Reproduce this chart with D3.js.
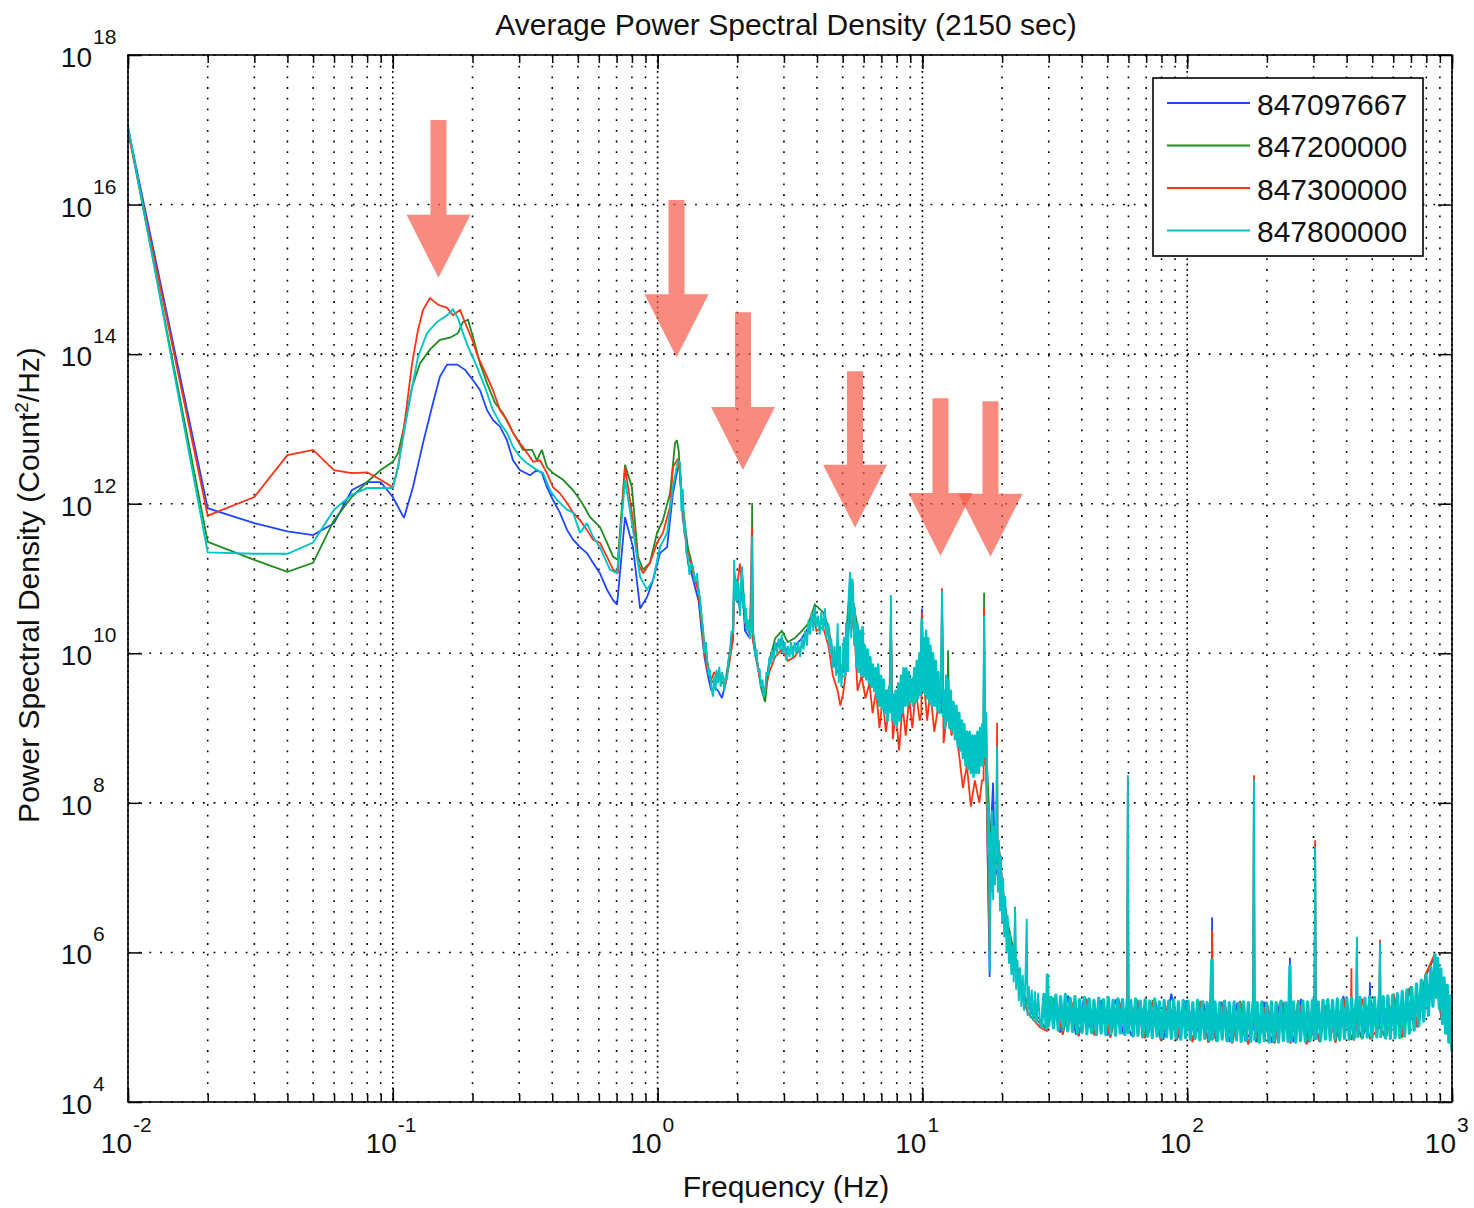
<!DOCTYPE html>
<html><head><meta charset="utf-8">
<script src="https://cdn.jsdelivr.net/npm/d3@7"></script>
<style>
body{margin:0;background:#fff;}
text{font-family:"Liberation Sans",Arial,Helvetica,sans-serif;fill:#111;}
</style></head><body>
<svg id="chart" width="1474" height="1208"></svg>
<script>
// ---------------- DATA ([log10 frequency (Hz), log10 PSD]) ----------------
const seriesNames = ["847097667","847200000","847300000","847800000"];
const xTickExps = [-2,-1,0,1,2,3];
const yTickExps = [4,6,8,10,12,14,16,18];
const chartTitle = "Average Power Spectral Density (2150 sec)";
const xTitle = "Frequency (Hz)";

const psd847097667 = [
[-2,17.02],[-1.699,11.94],[-1.523,11.74],[-1.398,11.63],[-1.301,11.58],[-1.222,11.74],[-1.155,12.18],[-1.097,12.29],[-1.046,12.29],[-1.0,12.09],
[-0.958,11.81],[-0.924,12.22],[-0.886,12.81],[-0.848,13.35],[-0.822,13.70],[-0.795,13.86],[-0.757,13.86],[-0.727,13.79],[-0.697,13.65],[-0.671,13.52],
[-0.644,13.25],[-0.622,13.12],[-0.595,13.03],[-0.569,12.85],[-0.546,12.58],[-0.520,12.45],[-0.482,12.38],[-0.456,12.45],[-0.437,12.41],[-0.418,12.22],
[-0.395,12.05],[-0.369,11.88],[-0.342,11.65],[-0.319,11.52],[-0.293,11.42],[-0.267,11.34],[-0.244,11.21],[-0.218,11.07],[-0.191,10.85],[-0.168,10.71],
[-0.153,10.65],[-0.123,11.82],[-0.093,11.42],[-0.066,10.60],[-0.040,10.75],[-0.017,10.98],[0.009,11.34],[0.036,11.42],[0.058,12.14],[0.077,12.49],
[0.085,12.45],[0.095,11.8],[0.104,11.6],[0.115,11.2],[0.126,11.1],[0.140,10.9],[0.155,10.7],[0.166,10.3],[0.177,9.95],[0.190,9.7],[0.203,9.5],
[0.214,9.55],[0.228,9.5],[0.243,9.4],[0.257,9.6],[0.270,9.9],[0.285,10.2],[0.289,11.0],[0.297,10.8],[0.311,10.6],[0.320,10.9],[0.330,10.3],
[0.349,10.2],[0.356,11.2],[0.359,10.2],[0.374,9.9],[0.390,9.6],[0.406,9.5],[0.422,9.9],[0.444,10.1],[0.469,10.2],[0.492,10.0],[0.517,10.1],
[0.545,10.2],[0.570,10.35],[0.588,10.5],[0.606,10.4],[0.625,10.45],[0.645,10.25],[0.662,9.9],[0.680,9.75],[0.700,9.75],[0.713,10.1],[0.727,10.9],
[0.745,10.4],[0.764,10.1],[0.783,9.9],[0.798,9.75],[0.818,9.65],[0.838,9.5],[0.858,9.3],[0.878,9.3],[0.881,10.3],[0.885,9.3],[0.904,9.3],[0.929,9.6],
[0.954,9.45],[0.979,9.6],[0.995,9.6],[0.998,10.6],[1.002,9.7],[1.022,9.8],[1.045,9.5],[1.070,9.4],[1.074,10.7],[1.078,9.3],[1.097,9.2],[1.123,9.0],
[1.149,8.8],[1.173,8.6],[1.198,8.5],[1.222,8.6],[1.231,8.7],[1.233,10.6],[1.235,8.7],[1.240,8.7],[1.254,5.67],[1.257,7.5],[1.267,8.27],[1.274,7.0],[1.289,7.2],
[1.305,6.7],[1.322,6.3],[1.340,6.0],[1.359,5.7],[1.379,5.5],[1.397,5.3],[1.419,5.2],[1.444,5.1],
[1.47,4.96],[1.49,5.40],[1.52,4.93],[1.55,5.42],[1.58,4.90],[1.61,5.38],[1.64,4.91],[1.67,5.36],[1.70,4.89],[1.73,5.37],[1.76,4.90],[1.774,5.0],[1.776,8.2],[1.778,5.0],
[1.79,4.88],[1.82,5.36],[1.85,4.87],[1.88,5.35],[1.91,4.83],[1.94,5.45],[1.97,4.85],[2.00,5.36],[2.03,4.84],[2.06,5.35],[2.09,4.83],[2.092,5.2],[2.094,6.47],[2.096,5.1],
[2.10,4.85],[2.13,5.34],[2.16,4.80],[2.19,5.33],[2.22,4.81],[2.250,5.0],[2.252,8.25],[2.254,5.0],[2.26,4.80],[2.29,5.34],[2.32,4.79],[2.35,5.33],[2.386,5.0],[2.388,5.93],[2.390,5.0],[2.40,4.80],
[2.43,5.38],[2.46,4.80],[2.481,5.0],[2.483,7.35],[2.485,5.0],[2.50,4.82],[2.53,5.36],[2.56,4.82],[2.59,5.42],[2.62,4.84],[2.639,5.0],[2.641,6.15],[2.643,5.0],[2.66,4.86],
[2.688,5.1],[2.69,5.6],[2.692,5.1],[2.726,5.0],[2.728,6.05],[2.730,5.0],
[2.75,4.86],[2.78,5.42],[2.81,4.87],[2.84,5.52],[2.87,5.0],[2.90,5.68],[2.935,5.95],[2.96,5.1],[2.98,5.5],[3.0,4.75]
];

const psd847200000 = [
[-2,17.0],[-1.699,11.49],[-1.523,11.25],[-1.398,11.09],[-1.301,11.21],[-1.222,11.78],[-1.155,12.09],[-1.097,12.29],[-1.046,12.45],[-1.0,12.56],
[-0.98,12.68],[-0.954,13.08],[-0.927,13.56],[-0.897,13.88],[-0.860,14.06],[-0.822,14.19],[-0.784,14.22],[-0.754,14.28],[-0.735,14.43],[-0.716,14.46],
[-0.697,14.23],[-0.671,13.88],[-0.644,13.61],[-0.614,13.35],[-0.584,13.21],[-0.546,12.95],[-0.508,12.72],[-0.474,12.72],[-0.456,12.58],[-0.437,12.72],
[-0.418,12.49],[-0.395,12.41],[-0.357,12.32],[-0.319,12.18],[-0.285,12.01],[-0.255,11.82],[-0.218,11.69],[-0.191,11.48],[-0.168,11.29],[-0.150,11.25],
[-0.123,12.52],[-0.097,12.22],[-0.074,11.29],[-0.055,11.12],[-0.029,11.21],[-0.002,11.61],[0.020,11.78],[0.047,12.14],[0.066,12.81],[0.073,12.85],
[0.080,12.7],[0.085,12.3],[0.095,12.0],[0.104,11.7],[0.115,11.4],[0.126,11.25],[0.140,11.0],[0.155,10.85],[0.166,10.5],[0.177,10.1],[0.190,9.85],
[0.203,9.6],[0.214,9.65],[0.228,9.7],[0.243,9.6],[0.257,9.65],[0.270,9.95],[0.285,10.3],[0.289,11.1],[0.297,10.9],[0.311,10.7],[0.320,11.05],
[0.330,10.5],[0.349,10.3],[0.355,10.3],[0.357,12.01],[0.360,10.3],[0.374,9.95],[0.390,9.55],[0.406,9.35],[0.422,9.9],[0.444,10.2],[0.469,10.3],[0.492,10.15],
[0.517,10.2],[0.545,10.3],[0.570,10.4],[0.594,10.65],[0.625,10.55],[0.645,10.35],[0.662,10.0],[0.680,9.85],[0.700,9.8],[0.713,10.3],[0.727,10.95],
[0.745,10.55],[0.764,10.2],[0.783,10.0],[0.798,9.8],[0.818,9.75],[0.838,9.6],[0.858,9.5],[0.878,9.5],[0.881,10.5],[0.885,9.45],[0.904,9.4],[0.929,9.75],
[0.954,9.6],[0.979,9.75],[0.995,9.7],[0.998,10.5],[1.002,9.8],[1.022,9.9],[1.045,9.6],[1.072,9.6],[1.074,10.6],[1.078,9.5],[1.095,9.4],[1.097,10.04],[1.10,9.3],[1.123,9.2],
[1.149,9.0],[1.173,8.8],[1.198,8.6],[1.222,8.7],[1.231,8.7],[1.233,10.81],[1.235,8.8],[1.240,8.8],[1.257,7.5],[1.274,7.1],[1.289,7.4],[1.305,6.8],[1.322,6.4],
[1.340,6.1],[1.348,6.0],[1.350,6.61],[1.352,5.9],[1.359,5.8],[1.379,5.5],[1.397,5.3],[1.419,5.15],[1.444,5.05],
[1.47,4.97],[1.50,5.39],[1.53,4.92],[1.56,5.37],[1.59,4.89],[1.62,5.38],[1.65,4.90],[1.68,5.36],[1.71,4.87],[1.74,5.38],[1.774,5.0],[1.776,8.3],[1.778,5.0],
[1.81,5.35],[1.84,4.86],[1.87,5.36],[1.90,4.84],[1.93,5.34],[1.96,4.82],[1.99,5.36],[2.02,4.81],[2.05,5.35],[2.08,4.80],[2.092,5.0],[2.094,6.2],[2.096,5.0],[2.11,4.82],
[2.14,5.33],[2.17,4.79],[2.20,5.35],[2.23,4.78],[2.250,5.0],[2.252,8.3],[2.254,5.0],[2.27,4.80],[2.30,5.33],[2.33,4.79],[2.36,5.34],[2.39,4.80],[2.42,5.36],[2.45,4.78],
[2.481,5.0],[2.483,7.4],[2.485,5.0],[2.50,4.81],[2.53,5.35],[2.56,4.80],[2.59,5.37],[2.62,4.83],[2.639,5.0],[2.641,6.2],[2.643,5.0],[2.66,4.84],[2.69,5.39],
[2.726,5.0],[2.728,6.1],[2.730,5.0],[2.75,4.85],[2.78,5.43],
[2.81,4.86],[2.84,5.52],[2.87,5.0],[2.90,5.7],[2.935,5.96],[2.96,5.1],[2.98,5.5],[3.0,4.72]
];

const psd847300000 = [
[-2,16.98],[-1.699,11.84],[-1.523,12.09],[-1.398,12.65],[-1.301,12.72],[-1.222,12.45],[-1.155,12.41],[-1.097,12.42],[-1.046,12.32],[-1.0,12.22],
[-0.98,12.49],[-0.954,13.12],[-0.927,13.88],[-0.905,14.32],[-0.886,14.59],[-0.860,14.75],[-0.829,14.66],[-0.795,14.62],[-0.773,14.52],[-0.746,14.59],
[-0.727,14.42],[-0.700,14.19],[-0.678,13.96],[-0.644,13.70],[-0.622,13.52],[-0.595,13.25],[-0.569,13.12],[-0.546,12.95],[-0.520,12.81],[-0.493,12.68],
[-0.470,12.56],[-0.444,12.58],[-0.418,12.41],[-0.395,12.22],[-0.369,12.14],[-0.342,12.01],[-0.319,11.88],[-0.293,11.78],[-0.267,11.65],[-0.244,11.52],
[-0.218,11.48],[-0.191,11.29],[-0.168,11.12],[-0.150,11.07],[-0.123,12.49],[-0.097,11.88],[-0.074,11.21],[-0.055,11.07],[-0.029,11.21],[-0.002,11.48],
[0.020,11.61],[0.047,11.96],[0.058,12.49],[0.077,12.6],[0.085,12.4],[0.095,11.9],[0.104,11.6],[0.115,11.3],[0.126,11.2],[0.140,11.0],[0.155,10.8],
[0.166,10.4],[0.177,10.0],[0.190,9.75],[0.203,9.65],[0.214,9.75],[0.228,9.65],[0.243,9.7],[0.257,9.6],[0.270,9.85],[0.285,10.2],[0.289,10.9],
[0.297,10.8],[0.311,11.2],[0.320,10.9],[0.330,10.4],[0.349,10.25],[0.356,11.69],[0.359,10.2],[0.374,9.9],[0.390,9.6],[0.406,9.5],[0.422,9.75],
[0.444,9.95],[0.469,10.05],[0.492,9.9],[0.517,9.95],[0.545,10.1],[0.570,10.3],[0.585,10.55],[0.600,10.3],[0.625,10.35],[0.645,10.1],[0.662,9.7],
[0.680,9.5],[0.690,9.3],[0.700,9.45],[0.713,9.8],[0.727,10.6],[0.745,10.2],[0.755,9.5],[0.770,9.7],[0.785,9.4],[0.800,9.6],[0.812,9.2],
[0.825,9.5],[0.838,9.0],[0.850,9.4],[0.862,8.95],[0.875,9.3],[0.881,10.5],[0.888,8.85],[0.900,9.2],[0.912,8.7],[0.925,9.3],[0.937,8.9],
[0.950,9.4],[0.962,9.0],[0.975,9.5],[0.990,9.1],[0.996,9.2],[0.998,10.55],[1.000,9.6],[1.005,9.65],[1.018,9.1],[1.030,9.5],[1.045,8.95],[1.060,9.3],[1.072,9.2],[1.074,10.87],
[1.080,8.8],[1.097,9.3],[1.110,8.9],[1.123,9.1],[1.140,8.6],[1.153,8.2],[1.168,8.5],[1.183,7.95],[1.198,8.3],[1.215,8.0],[1.225,8.3],
[1.231,8.3],[1.233,10.6],[1.235,8.5],[1.240,8.6],[1.248,7.0],[1.254,6.0],[1.260,7.3],[1.274,7.6],[1.280,7.5],[1.282,9.07],[1.284,7.5],[1.289,7.4],[1.305,6.8],[1.322,6.3],[1.340,6.0],
[1.359,5.7],[1.379,5.4],[1.397,5.2],[1.419,5.1],[1.444,5.0],
[1.47,4.95],[1.50,5.40],[1.53,4.90],[1.56,5.38],[1.59,4.88],[1.62,5.36],[1.65,4.89],[1.68,5.37],[1.71,4.86],[1.74,5.36],[1.774,5.0],[1.776,8.35],[1.778,5.0],
[1.81,5.37],[1.84,4.85],[1.87,5.34],[1.90,4.82],[1.93,5.36],[1.96,4.83],[1.99,5.35],[2.02,4.80],[2.05,5.34],[2.08,4.79],[2.092,5.0],[2.094,6.3],[2.096,5.0],[2.11,4.81],
[2.14,5.35],[2.17,4.78],[2.20,5.33],[2.23,4.77],[2.250,5.0],[2.252,8.37],[2.254,5.0],[2.27,4.79],[2.30,5.34],[2.33,4.78],[2.36,5.33],[2.39,4.78],[2.42,5.35],[2.45,4.77],
[2.481,5.0],[2.483,7.5],[2.485,5.0],[2.50,4.80],[2.53,5.36],[2.56,4.79],[2.59,5.37],[2.618,5.0],[2.62,5.79],[2.622,5.0],[2.63,4.82],[2.66,5.38],[2.69,4.84],
[2.726,5.0],[2.728,6.17],[2.730,5.0],[2.75,4.84],[2.78,5.45],
[2.81,4.86],[2.84,5.53],[2.87,5.0],[2.90,5.7],[2.935,5.98],[2.96,5.12],[2.98,5.45],[3.0,4.68]
];

const psd847800000 = [
[-2,17.05],[-1.699,11.35],[-1.523,11.33],[-1.398,11.33],[-1.301,11.48],[-1.222,11.92],[-1.155,12.12],[-1.097,12.21],[-1.046,12.21],[-1.0,12.21],
[-0.98,12.49],[-0.954,13.03],[-0.927,13.56],[-0.905,13.96],[-0.871,14.28],[-0.833,14.43],[-0.795,14.52],[-0.773,14.60],[-0.754,14.48],[-0.735,14.28],
[-0.716,14.10],[-0.682,13.83],[-0.652,13.56],[-0.622,13.25],[-0.595,13.08],[-0.569,12.95],[-0.546,12.76],[-0.520,12.63],[-0.493,12.54],[-0.455,12.45],
[-0.433,12.41],[-0.406,12.18],[-0.380,12.05],[-0.342,11.92],[-0.319,11.88],[-0.293,11.61],[-0.267,11.74],[-0.244,11.56],[-0.218,11.42],[-0.180,11.12],
[-0.153,11.07],[-0.123,12.32],[-0.093,11.65],[-0.066,11.02],[-0.040,10.85],[-0.017,10.98],[0.009,11.42],[0.036,11.61],[0.058,12.22],[0.077,12.58],
[0.085,12.55],[0.090,11.9],[0.095,12.2],[0.100,11.6],[0.104,11.75],[0.108,11.35],[0.115,11.29],[0.120,11.05],[0.126,11.2],[0.134,11.16],[0.140,10.95],
[0.149,11.07],[0.155,10.8],[0.160,10.75],[0.166,10.45],[0.171,10.35],[0.177,10.0],[0.183,10.15],[0.187,9.91],[0.193,9.7],[0.198,9.78],[0.203,9.55],
[0.209,9.42],[0.214,9.7],[0.219,9.5],[0.223,9.78],[0.228,9.6],[0.233,9.82],[0.238,9.55],[0.243,9.75],[0.247,9.68],[0.252,9.5],[0.257,9.7],
[0.262,9.64],[0.267,9.9],[0.273,10.0],[0.279,10.3],[0.285,10.27],[0.289,11.25],[0.293,10.7],[0.297,11.0],[0.300,10.7],[0.305,10.95],[0.311,10.5],
[0.315,10.98],[0.319,11.16],[0.323,10.6],[0.327,10.8],[0.330,10.4],[0.334,10.6],[0.338,10.3],[0.343,10.45],[0.349,10.2],[0.353,10.35],[0.356,11.56],
[0.359,10.3],[0.364,10.2],[0.368,9.95],[0.374,10.05],[0.379,9.75],[0.385,9.8],[0.390,9.55],[0.396,9.65],[0.401,9.42],[0.406,9.5],[0.411,9.75],
[0.417,9.7],[0.422,9.95],[0.427,9.85],[0.432,10.05],[0.438,9.9],[0.444,10.15],[0.451,10.0],[0.457,10.2],[0.463,10.05],[0.469,10.25],[0.474,10.0],
[0.480,10.15],[0.486,9.9],[0.492,10.1],[0.498,9.95],[0.504,10.15],[0.511,9.95],[0.517,10.15],[0.524,10.0],[0.531,10.15],[0.538,9.95],[0.545,10.2],
[0.551,10.05],[0.557,10.3],[0.564,10.1],[0.570,10.45],[0.576,10.25],[0.582,10.55],[0.588,10.3],[0.594,10.62],[0.600,10.35],[0.606,10.5],[0.612,10.25],
[0.618,10.55],[0.625,10.3],[0.632,10.6],[0.638,10.2],[0.645,10.4],[0.651,10.0],[0.656,10.2],[0.662,9.8],[0.668,10.1],[0.674,9.7],[0.680,10.4],
[0.684,9.6],[0.689,10.1],[0.694,9.55],[0.700,9.9],[0.704,10.2],[0.708,9.7],[0.713,10.4],[0.718,9.75],[0.722,10.8],[0.727,11.09],[0.731,10.2],
[0.735,11.0],[0.738,10.94],[0.742,10.1],[0.745,10.62],[0.750,9.8],[0.754,10.4],[0.759,9.75],[0.764,10.3],[0.769,9.7],[0.774,10.35],[0.779,9.7],
[0.783,10.1],[0.788,9.65],[0.793,10.05],[0.798,9.6],[0.803,9.95],[0.808,9.55],[0.813,9.85],[0.818,9.5],[0.823,9.8],[0.828,9.4],[0.833,9.85],
[0.838,9.3],[0.843,9.7],[0.848,9.25],[0.853,9.65],[0.858,9.2],[0.863,9.5],[0.868,9.1],[0.874,9.55],[0.878,9.2],[0.881,10.78],[0.885,9.1],
[0.889,9.45],[0.894,9.05],[0.899,9.5],[0.904,9.02],[0.909,9.6],[0.914,9.1],[0.919,9.7],[0.924,9.2],[0.929,9.8],[0.934,9.3],[0.939,9.8],
[0.944,9.3],[0.949,9.75],[0.954,9.35],[0.959,9.65],[0.964,9.3],[0.969,9.8],[0.974,9.35],[0.979,9.9],[0.984,9.4],[0.989,10.0],[0.993,9.45],
[0.998,10.45],[1.002,9.5],[1.006,10.2],[1.010,9.45],[1.014,10.3],[1.018,9.4],[1.022,10.2],[1.026,9.35],[1.030,10.1],[1.035,9.3],[1.040,10.0],
[1.045,9.3],[1.050,9.9],[1.055,9.25],[1.060,9.75],[1.065,9.2],[1.070,9.6],[1.074,10.83],[1.078,9.15],[1.082,9.5],[1.085,9.0],[1.090,9.7],
[1.094,9.1],[1.097,9.64],[1.102,9.0],[1.107,9.5],[1.112,8.95],[1.117,9.35],[1.123,8.85],[1.128,9.3],[1.134,8.75],[1.139,9.2],[1.144,8.7],
[1.149,9.1],[1.153,8.6],[1.158,9.05],[1.163,8.5],[1.168,8.95],[1.173,8.45],[1.178,8.95],[1.183,8.4],[1.188,8.9],[1.193,8.35],[1.198,8.9],
[1.203,8.4],[1.208,8.95],[1.213,8.4],[1.218,9.0],[1.222,8.5],[1.226,9.05],[1.229,8.5],[1.233,10.5],[1.236,8.6],[1.240,9.2],[1.244,8.3],
[1.248,7.3],[1.251,8.0],[1.254,5.75],[1.257,7.6],[1.260,6.8],[1.263,7.9],[1.267,6.7],[1.270,7.7],[1.274,6.9],[1.278,7.6],[1.282,8.75],
[1.285,6.8],[1.289,7.5],[1.293,6.55],[1.297,7.3],[1.301,6.4],[1.305,7.0],[1.309,6.2],[1.313,6.75],[1.318,6.0],[1.322,6.5],[1.327,5.85],
[1.331,6.25],[1.336,5.7],[1.340,6.1],[1.345,5.6],[1.350,6.6],[1.354,5.5],[1.359,5.9],[1.364,5.35],[1.369,5.8],[1.374,5.27],[1.379,5.7],
[1.384,5.22],[1.389,5.62],[1.394,6.45],[1.397,5.15],[1.402,5.55],[1.408,5.12],[1.413,5.5],[1.419,5.08],[1.425,5.48],[1.431,5.05],[1.437,5.46],
[1.444,5.04],
[1.450,5.00],[1.459,5.44],[1.468,4.98],[1.472,5.70],[1.477,5.02],[1.486,5.40],[1.495,4.99],[1.504,5.43],[1.513,4.96],[1.522,5.41],[1.531,4.97],
[1.540,5.44],[1.549,4.95],[1.558,5.39],[1.567,4.94],[1.576,5.41],[1.585,4.92],[1.594,5.37],[1.603,4.93],[1.612,5.40],[1.621,4.91],[1.630,5.38],
[1.639,4.93],[1.648,5.36],[1.657,4.90],[1.666,5.39],[1.675,4.92],[1.684,5.37],[1.693,4.90],[1.702,5.40],[1.711,4.91],[1.720,5.36],[1.729,4.89],
[1.738,5.38],[1.747,4.92],[1.756,5.37],[1.765,4.90],[1.774,5.39],[1.776,8.37],[1.778,4.91],[1.787,5.36],[1.796,4.88],[1.805,5.38],[1.814,4.89],
[1.823,5.35],[1.832,4.87],[1.841,5.37],[1.850,4.88],[1.859,5.35],[1.868,4.86],[1.877,5.38],[1.886,4.88],[1.895,5.34],[1.904,4.86],[1.913,5.36],
[1.922,4.87],[1.931,5.35],[1.940,4.85],[1.949,5.37],[1.958,4.86],[1.967,5.34],[1.976,4.84],[1.985,5.36],[1.994,4.86],[2.003,5.35],[2.012,4.84],
[2.021,5.33],[2.030,4.85],[2.039,5.36],[2.048,4.83],[2.057,5.34],[2.066,4.85],[2.075,5.33],[2.084,4.83],[2.093,5.90],[2.096,4.84],[2.105,5.34],
[2.114,4.82],[2.123,5.33],[2.132,4.84],[2.141,5.35],[2.150,4.82],[2.159,5.33],[2.168,4.81],[2.177,5.34],[2.186,4.83],[2.195,5.32],[2.204,4.81],
[2.213,5.34],[2.222,4.82],[2.231,5.33],[2.240,4.81],[2.249,5.35],[2.252,8.31],[2.255,4.82],[2.264,5.33],[2.273,4.80],[2.282,5.34],[2.291,4.82],
[2.300,5.32],[2.309,4.80],[2.318,5.34],[2.327,4.81],[2.336,5.33],[2.345,4.80],[2.354,5.35],[2.363,4.82],[2.372,5.33],[2.381,4.81],[2.388,5.82],
[2.392,4.82],[2.401,5.34],[2.410,4.80],[2.419,5.33],[2.428,4.82],[2.437,5.35],[2.446,4.81],[2.455,5.34],[2.464,4.82],[2.473,5.36],[2.480,4.83],
[2.483,7.41],[2.486,4.83],[2.495,5.34],[2.504,4.82],[2.513,5.36],[2.522,4.84],[2.531,5.37],[2.540,4.83],[2.549,5.36],[2.558,4.84],[2.567,5.38],
[2.576,4.83],[2.585,5.37],[2.594,4.85],[2.603,5.38],[2.612,4.84],[2.621,5.39],[2.630,4.85],[2.638,5.38],[2.641,6.21],[2.644,4.86],[2.653,5.40],
[2.662,4.86],[2.671,5.39],[2.680,4.87],[2.689,5.41],[2.698,4.86],[2.707,5.40],[2.716,4.87],[2.725,5.42],[2.728,6.13],[2.731,4.86],[2.740,5.41],
[2.749,4.86],[2.758,5.42],[2.767,4.85],[2.776,5.43],[2.785,4.86],[2.794,5.45],[2.803,4.86],[2.812,5.48],[2.821,4.88],[2.830,5.50],[2.839,4.92],
[2.848,5.53],[2.857,4.96],[2.866,5.58],[2.875,5.02],[2.884,5.63],[2.893,5.08],[2.902,5.70],[2.911,5.16],[2.920,5.80],[2.928,5.28],[2.936,5.97],
[2.941,5.40],[2.946,5.92],[2.952,5.25],[2.958,5.78],[2.964,5.05],[2.970,5.66],[2.976,4.92],[2.982,5.56],[2.988,4.80],[2.994,5.42],[3.000,4.68]
];

// Arrow annotations: frequency (Hz) of the arrow, log10 PSD at the tip and at the tail
const arrowFreqs = [0.1488, 1.179, 2.101, 5.567, 11.70, 18.08];
const arrowTips  = [15.02, 13.96, 12.45, 11.68, 11.30, 11.29];
const arrowTails = [17.13, 16.06, 14.56, 13.77, 13.41, 13.37];

// ---------------- DRAWING ----------------
const W = 1474, H = 1208;
const m = {l:128, r:22, t:55, b:106};
const svg = d3.select("#chart");
const x = d3.scaleLog().domain([1e-2, 1e3]).range([m.l, W - m.r]);
const y = d3.scaleLog().domain([1e4, 1e18]).range([H - m.b, m.t]);
const p10 = e => Math.pow(10, e);

svg.append("rect").attr("width", W).attr("height", H).attr("fill", "#fff");

svg.append("defs").append("clipPath").attr("id", "plotclip")
  .append("rect").attr("x", m.l).attr("y", m.t)
  .attr("width", W - m.l - m.r).attr("height", H - m.t - m.b);

// grid
const gGrid = svg.append("g");
const minorVals = x.ticks();
const majorVals = xTickExps.map(p10);
const yVals = yTickExps.map(p10);
gGrid.selectAll("line.vg").data(minorVals).join("line")
  .attr("x1", d => x(d)).attr("x2", d => x(d)).attr("y1", m.t).attr("y2", H - m.b)
  .attr("stroke", "#000").attr("stroke-width", 1.6).attr("stroke-dasharray", "1.8 8.9");
gGrid.selectAll("line.vgm").data(majorVals).join("line")
  .attr("x1", d => x(d)).attr("x2", d => x(d)).attr("y1", m.t).attr("y2", H - m.b)
  .attr("stroke", "#000").attr("stroke-width", 1.6).attr("stroke-dasharray", "1.8 8.9").attr("stroke-dashoffset", -5.3);
gGrid.selectAll("line.hg").data(yVals).join("line")
  .attr("x1", m.l).attr("x2", W - m.r).attr("y1", d => y(d)).attr("y2", d => y(d))
  .attr("stroke", "#000").attr("stroke-width", 1.6).attr("stroke-dasharray", "1.8 8.9");

// series
const seriesData = [psd847097667, psd847200000, psd847300000, psd847800000];
const seriesColors = ["#1e46ff", "#1e8c1e", "#ff3214", "#00c4c4"];
const line = d3.line().x(d => x(p10(d[0]))).y(d => y(p10(d[1])));
const gLines = svg.append("g").attr("clip-path", "url(#plotclip)");
seriesData.forEach((s, i) => {
  gLines.append("path").datum(s).attr("d", line)
    .attr("fill", "none").attr("stroke", seriesColors[i])
    .attr("stroke-width", i === 3 ? 1.9 : 1.8).attr("stroke-linejoin", "miter").attr("stroke-miterlimit", 2);
});
// dense (thick-looking) noise segments of the last trace, without its narrow lines
const denseFloor = d3.line().defined(d => d[0] >= 1.445 && d[1] < 6.0)
  .x(d => x(p10(d[0]))).y(d => y(p10(d[1])));
gLines.append("path").datum(psd847800000).attr("d", denseFloor)
  .attr("fill", "none").attr("stroke", seriesColors[3]).attr("stroke-width", 3.2).attr("stroke-linejoin", "round");
const denseMid = d3.line().defined(d => d[0] >= 0.70 && d[0] <= 1.245 && d[1] < 10.5)
  .x(d => x(p10(d[0]))).y(d => y(p10(d[1])));
gLines.append("path").datum(psd847800000).attr("d", denseMid)
  .attr("fill", "none").attr("stroke", seriesColors[3]).attr("stroke-width", 2.5).attr("stroke-linejoin", "round");

// axes (ticks)
function styleAxis(g) {
  g.select(".domain").remove();
  g.selectAll(".tick line").attr("stroke", "#000").attr("stroke-width", 1.5);
  g.selectAll(".tick text").remove();
}
svg.append("g").attr("transform", `translate(0,${H - m.b})`)
  .call(d3.axisBottom(x).tickValues(minorVals).tickSizeInner(-8).tickSizeOuter(0).tickFormat("")).call(styleAxis);
svg.append("g").attr("transform", `translate(0,${H - m.b})`)
  .call(d3.axisBottom(x).tickValues(majorVals).tickSizeInner(-14).tickSizeOuter(0).tickFormat("")).call(styleAxis);
svg.append("g").attr("transform", `translate(0,${m.t})`)
  .call(d3.axisTop(x).tickValues(minorVals).tickSizeInner(-8).tickSizeOuter(0).tickFormat("")).call(styleAxis);
svg.append("g").attr("transform", `translate(0,${m.t})`)
  .call(d3.axisTop(x).tickValues(majorVals).tickSizeInner(-14).tickSizeOuter(0).tickFormat("")).call(styleAxis);
svg.append("g").attr("transform", `translate(${m.l},0)`)
  .call(d3.axisLeft(y).tickValues(yVals).tickSizeInner(-14).tickSizeOuter(0).tickFormat("")).call(styleAxis);
svg.append("g").attr("transform", `translate(${W - m.r},0)`)
  .call(d3.axisRight(y).tickValues(yVals).tickSizeInner(-14).tickSizeOuter(0).tickFormat("")).call(styleAxis);

// box
svg.append("rect").attr("x", m.l).attr("y", m.t).attr("width", W - m.l - m.r).attr("height", H - m.t - m.b)
  .attr("fill", "none").attr("stroke", "#000").attr("stroke-width", 1.6);

// tick labels
const gLab = svg.append("g");
xTickExps.forEach(e => {
  const xp = x(p10(e));
  gLab.append("text").attr("x", xp + 4).attr("y", 1153).attr("text-anchor", "end").attr("font-size", 28).text("10");
  gLab.append("text").attr("x", xp + 5).attr("y", 1132).attr("text-anchor", "start").attr("font-size", 21).text(String(e));
});
yTickExps.forEach(e => {
  const yp = y(p10(e));
  gLab.append("text").attr("x", 92).attr("y", yp + 12).attr("text-anchor", "end").attr("font-size", 28).text("10");
  gLab.append("text").attr("x", 93).attr("y", yp - 11).attr("text-anchor", "start").attr("font-size", 21).text(String(e));
});

// titles
svg.append("text").attr("x", 786).attr("y", 35).attr("text-anchor", "middle").attr("font-size", 30).text(chartTitle);
svg.append("text").attr("x", 786).attr("y", 1197).attr("text-anchor", "middle").attr("font-size", 30).text(xTitle);
const yt = svg.append("text").attr("transform", "translate(39,585) rotate(-90)").attr("text-anchor", "middle").attr("font-size", 30);
yt.append("tspan").text("Power Spectral Density (Count");
yt.append("tspan").attr("dy", -11).attr("font-size", 19).text("2");
yt.append("tspan").attr("dy", 11).text("/Hz)");

// arrows
const gArr = svg.append("g").attr("fill", "#f55a46").attr("fill-opacity", 0.7);
const shaftHalf = 8, headHalf = 32, headH = 63;
arrowFreqs.forEach((f, i) => {
  const cx = x(f), tipY = y(p10(arrowTips[i])), tailY = y(p10(arrowTails[i]));
  const baseY = tipY - headH;
  const pts = [[cx - shaftHalf, tailY], [cx + shaftHalf, tailY], [cx + shaftHalf, baseY], [cx + headHalf, baseY],
               [cx, tipY], [cx - headHalf, baseY], [cx - shaftHalf, baseY]];
  gArr.append("polygon").attr("points", pts.map(p => p.join(",")).join(" "));
});

// legend
const lg = svg.append("g");
lg.append("rect").attr("x", 1153).attr("y", 78).attr("width", 270).attr("height", 178)
  .attr("fill", "#fff").attr("stroke", "#000").attr("stroke-width", 1.6);
seriesNames.forEach((n, i) => {
  const ry = 103 + i * 42.5;
  lg.append("line").attr("x1", 1167).attr("x2", 1250).attr("y1", ry).attr("y2", ry)
    .attr("stroke", seriesColors[i]).attr("stroke-width", 1.8);
  lg.append("text").attr("x", 1257).attr("y", ry + 11.5).attr("font-size", 30).text(n);
});
</script>
</body></html>
